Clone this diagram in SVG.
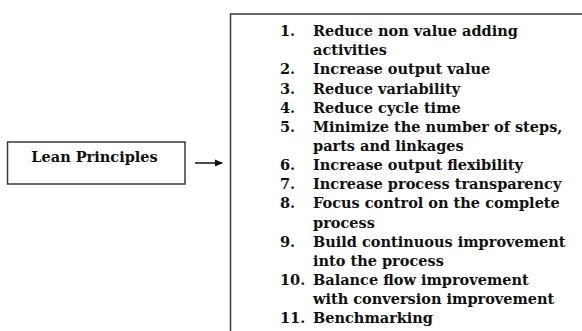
<svg xmlns="http://www.w3.org/2000/svg" width="582" height="331" viewBox="0 0 582 331">
<style>
.t{font-family:"DejaVu Serif","Liberation Serif",serif;font-weight:bold;font-size:14.5px;fill:#111}
.b{fill:#fff;stroke:#3a3a3a;stroke-width:1.5}
</style>
<defs>
<marker id="ah" markerWidth="8" markerHeight="8" refX="7" refY="4" orient="auto" markerUnits="userSpaceOnUse">
<path d="M0,0.5 L8,4 L0,7.5 Z" fill="#111"/>
</marker>
</defs>
<rect width="582" height="331" fill="#fff"/>
<g id="lean-principles">
<rect class="b" x="7.5" y="142" width="177.5" height="42"/>
<text class="t" x="94.5" y="162" text-anchor="middle">Lean Principles</text>
</g>
<g id="principles-list">
<path d="M583 14 H230.5 V332" fill="none" stroke="#3a3a3a" stroke-width="1.5"/>
<g class="t">
<text x="280" y="36.1">1.</text><text x="313" y="36.1">Reduce non value adding</text>
<text x="313" y="55.25">activities</text>
<text x="280" y="74.4">2.</text><text x="313" y="74.4">Increase output value</text>
<text x="280" y="93.55">3.</text><text x="313" y="93.55">Reduce variability</text>
<text x="280" y="112.7">4.</text><text x="313" y="112.7">Reduce cycle time</text>
<text x="280" y="131.85">5.</text><text x="313" y="131.85">Minimize the number of steps,</text>
<text x="313" y="151">parts and linkages</text>
<text x="280" y="170.15">6.</text><text x="313" y="170.15">Increase output flexibility</text>
<text x="280" y="189.3">7.</text><text x="313" y="189.3">Increase process transparency</text>
<text x="280" y="208.45">8.</text><text x="313" y="208.45">Focus control on the complete</text>
<text x="313" y="227.6">process</text>
<text x="280" y="246.75">9.</text><text x="313" y="246.75">Build continuous improvement</text>
<text x="313" y="265.9">into the process</text>
<text x="280" y="285.05">10.</text><text x="313" y="285.05">Balance flow improvement</text>
<text x="313" y="304.2">with conversion improvement</text>
<text x="280" y="323.35">11.</text><text x="313" y="323.35">Benchmarking</text>
</g>
</g>
<g id="connectors">
<line x1="195" y1="163" x2="222" y2="163" stroke="#111" stroke-width="1.5" marker-end="url(#ah)"/>
</g>
</svg>
